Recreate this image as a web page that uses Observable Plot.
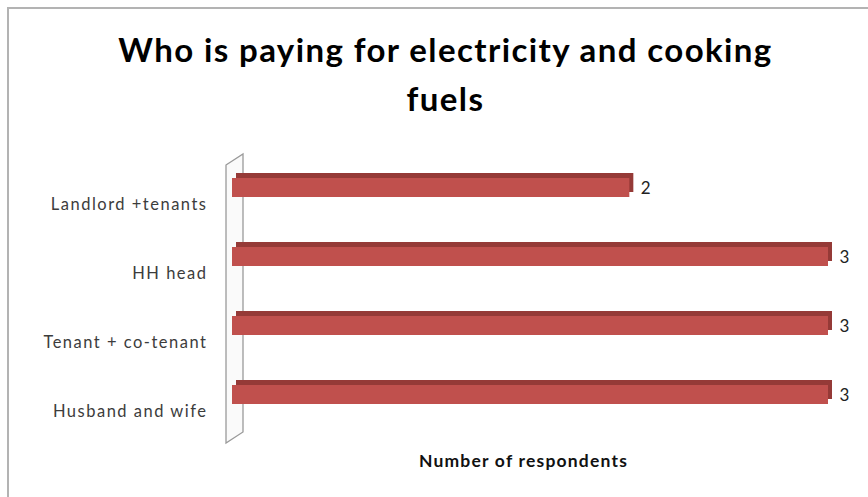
<!DOCTYPE html>
<html>
<head>
<meta charset="utf-8">
<script src="https://cdn.jsdelivr.net/npm/d3@7"></script>
<script src="https://cdn.jsdelivr.net/npm/@observablehq/plot@0.6"></script>
<style>
  html, body { margin: 0; padding: 0; background: #fff; }
  #wrap { position: relative; width: 868px; height: 497px; overflow: hidden; }
  #border { position: absolute; left: 7px; top: 7px; width: 870px; height: 500px;
            border-left: 2px solid #b3b3b3; border-top: 2px solid #b3b3b3; pointer-events: none; }
  #chart { position: absolute; left: 0; top: 0; }
  g[aria-label="y-axis tick label"] text { letter-spacing: 1.5px; }
  .ttl text { letter-spacing: 1.4px; }
  .xlab text { letter-spacing: 1.2px; }
</style>
</head>
<body>
<div id="wrap"><div id="chart"></div><div id="border"></div></div>
<script>
const categories = ["Landlord +tenants", "HH head", "Tenant + co-tenant", "Husband and wife"];
const values = [2, 3, 3, 3];
const titleLines = ["Who is paying for electricity and cooking", "fuels"];
const xLabel = "Number of respondents";

const data = categories.map((c, i) => ({category: c, value: values[i]}));

const front = "#c0504d";
const shade = "#953a37";
const font = "Lato, 'Open Sans', sans-serif";

const plot = Plot.plot({
  width: 868,
  height: 497,
  marginLeft: 232,
  marginRight: 40,
  marginTop: 153,
  marginBottom: 67,
  style: {fontFamily: font, background: "transparent"},
  x: {domain: [0, 3], axis: null},
  y: {domain: categories, paddingInner: 0.72, paddingOuter: 0.36, label: null},
  marks: [
    Plot.axisY({tickSize: 0, tickPadding: 25, dy: 17, fontSize: 16.5, color: "#3c3c3c", label: null}),
    Plot.barX(data, {x: "value", y: "category", fill: shade, dx: 4, dy: -5}),
    Plot.barX(data, {x: "value", y: "category", fill: front}),
    Plot.text(data, {x: "value", y: "category", text: d => String(d.value), textAnchor: "start",
                     dx: 11, dy: 1, fontSize: 17, fill: "#222"}),
    Plot.text([xLabel], {className: "xlab", frameAnchor: "bottom", dy: 36, dx: -7, fontSize: 17.5,
                     fontWeight: "bold", fill: "#111"}),
    Plot.text([titleLines.join("\n")], {className: "ttl", frameAnchor: "top", dy: -127, dx: -85, lineAnchor: "top",
                     lineHeight: 1.5, fontSize: 33, fontWeight: "bold", fill: "#000"})
  ]
});

// 3D "wall" behind the bars, positioned from the plot's own scales
const xs = plot.scale("x");
const ys = plot.scale("y");
const wx = xs.apply(0);
const wTop = ys.range[0], wBottom = ys.range[1];
d3.select(plot).insert("path", "g")
  .attr("d", `M${wx - 6},${wTop + 12}L${wx + 11},${wTop + 1}L${wx + 11},${wBottom + 2}L${wx - 6},${wBottom + 13}Z`)
  .attr("fill", "#fafafa")
  .attr("stroke", "#9a9a9a")
  .attr("stroke-width", 1.3);

document.getElementById("chart").append(plot);
</script>
</body>
</html>
